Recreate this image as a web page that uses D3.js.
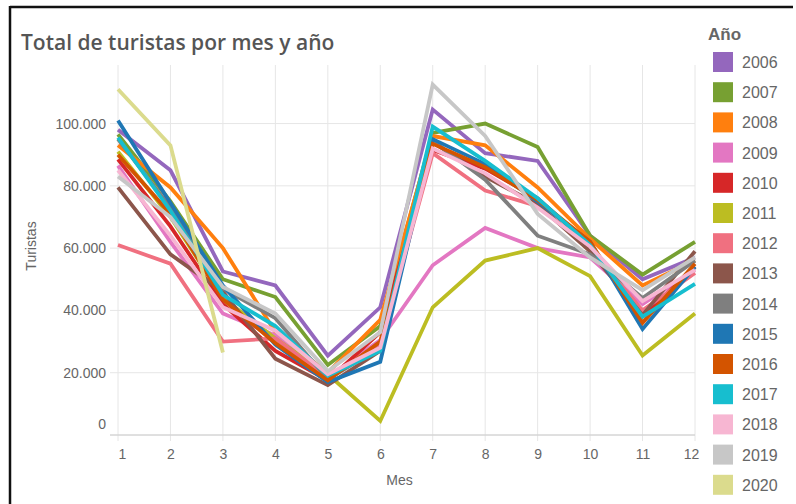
<!DOCTYPE html>
<html>
<head>
<meta charset="utf-8">
<script src="https://cdn.jsdelivr.net/npm/d3@7"></script>
<style>
  body { margin: 0; background: #fff; }
  svg { display: block; font-family: "Liberation Sans", Arial, sans-serif; }
  .grid line { stroke: #e6e6e6; }
  .axis text { fill: #666; font-size: 14px; font-family: "Liberation Sans", Arial, sans-serif; }
</style>
</head>
<body>
<div id="chart-area"></div>
<script>
// Meses y años
var months = [1, 2, 3, 4, 5, 6, 7, 8, 9, 10, 11, 12];
var years = ["2006", "2007", "2008", "2009", "2010", "2011", "2012", "2013",
             "2014", "2015", "2016", "2017", "2018", "2019", "2020"];
var colors = ["#9467bd", "#77a032", "#ff7f0e", "#e377c2", "#d62728", "#bcbd22", "#f07080", "#8c564b",
              "#7f7f7f", "#1f77b4", "#d35400", "#17becf", "#f7b6d2", "#c7c7c7", "#dbdb8d"];
var yTicks = [0, 20000, 40000, 60000, 80000, 100000];

// turistas por mes, una lista por año
var t2006 = [98000, 85000, 52500, 48000, 25500, 41000, 104500, 90500, 88000, 64000, 50000, 57000];
var t2007 = [96500, 75000, 50000, 44300, 22500, 35000, 97000, 100000, 92500, 64000, 51500, 62000];
var t2008 = [93000, 79500, 60000, 33000, 20000, 37000, 96000, 93000, 79500, 63000, 48000, 56000];
var t2009 = [86500, 62000, 39000, 32000, 18500, 30500, 54500, 66500, 60000, 57000, 42000, 53000];
var t2010 = [88500, 67000, 42000, 27000, 17500, 33000, 91500, 85500, 76000, 61000, 38000, 54000];
var t2011 = [91000, 70000, 44000, 31000, 19500, 4500, 41000, 56000, 60000, 51000, 25500, 39000];
var t2012 = [61000, 55000, 30000, 31000, 18500, 29000, 90500, 78500, 73500, 60000, 40000, 52000];
var t2013 = [79500, 58000, 46000, 24500, 16000, 27000, 94000, 83000, 74000, 59000, 38500, 59000];
var t2014 = [95000, 73000, 47000, 37500, 18000, 28000, 94500, 82000, 64000, 58000, 44000, 56000];
var t2015 = [101000, 74500, 48000, 29000, 17000, 23500, 95000, 87000, 75000, 62000, 34000, 54000];
var t2016 = [90000, 71000, 43500, 29500, 17500, 30000, 93500, 86000, 75500, 62000, 36000, 55000];
var t2017 = [95500, 72000, 45000, 35000, 19000, 27000, 99000, 88000, 76000, 61000, 38000, 48500];
var t2018 = [85000, 64000, 41000, 33500, 19500, 28000, 92000, 84000, 73000, 60500, 43000, 53000];
var t2019 = [83000, 70000, 47500, 39000, 20500, 33000, 112500, 96000, 71000, 57000, 46500, 57000];
var t2020 = [111000, 93000, 26500];

var series = [t2006, t2007, t2008, t2009, t2010, t2011, t2012, t2013,
              t2014, t2015, t2016, t2017, t2018, t2019, t2020];

var W = 796, H = 504;
var margin = {left: 118, right: 101, top: 65, bottom: 69};
var width = W - margin.left - margin.right;
var height = H - margin.top - margin.bottom;

var svg = d3.select("#chart-area").append("svg")
    .attr("width", W)
    .attr("height", H);

// marco negro
svg.append("line").attr("x1", 10).attr("x2", 793).attr("y1", 7).attr("y2", 7)
    .attr("stroke", "#111").attr("stroke-width", 2.5);
svg.append("line").attr("x1", 10).attr("x2", 10).attr("y1", 6).attr("y2", H)
    .attr("stroke", "#111").attr("stroke-width", 2.5);

// titulo
svg.append("text")
    .attr("x", 21)
    .attr("y", 50)
    .attr("font-size", "21px")
    .attr("font-weight", "600")
    .attr("font-family", "'Open Sans', sans-serif")
    .attr("fill", "#555")
    .text("Total de turistas por mes y año");

var g = svg.append("g")
    .attr("transform", "translate(" + margin.left + "," + margin.top + ")");

var x = d3.scaleLinear().domain([1, 12]).range([0, width]);
var y = d3.scaleLinear().domain([0, 118800]).range([height, 0]);

// rejilla
g.append("g").attr("class", "grid")
    .selectAll("line").data(months).enter().append("line")
    .attr("x1", d => x(d)).attr("x2", d => x(d))
    .attr("y1", 0).attr("y2", height + 6);
g.append("g").attr("class", "grid")
    .selectAll("line").data(yTicks).enter().append("line")
    .attr("x1", -8).attr("x2", width)
    .attr("y1", d => y(d)).attr("y2", d => y(d));
g.append("line")
    .attr("x1", -8).attr("x2", width).attr("y1", height).attr("y2", height)
    .attr("stroke", "#ccc");

// ejes
var fmt = d3.formatLocale({decimal: ",", thousands: ".", grouping: [3]}).format(",");
var yAxisCall = d3.axisLeft(y).tickValues(yTicks).tickSize(0).tickPadding(12)
    .tickFormat(d => fmt(d));
var yAx = g.append("g").attr("class", "axis").call(yAxisCall);
yAx.select(".domain").remove();
yAx.selectAll("text").attr("dy", d => d === 0 ? "-0.45em" : "0.32em");

var xAxisCall = d3.axisBottom(x).tickValues(months).tickSize(0).tickPadding(14);
var xAx = g.append("g").attr("class", "axis")
    .attr("transform", "translate(0," + height + ")")
    .call(xAxisCall);
xAx.select(".domain").remove();
xAx.selectAll("text").attr("dx", d => d === 1 ? "4px" : (d === 12 ? "-4px" : "0"));

// etiquetas
g.append("text")
    .attr("x", width / 2 - 7)
    .attr("y", height + 50)
    .attr("font-size", "14px")
    .attr("fill", "#666")
    .attr("text-anchor", "middle")
    .text("Mes");

g.append("text")
    .attr("x", -(height / 2) + 4)
    .attr("y", -82)
    .attr("font-size", "14px")
    .attr("fill", "#666")
    .attr("text-anchor", "middle")
    .attr("transform", "rotate(-90)")
    .text("Turistas");

// lineas
var line = d3.line()
    .x((d, i) => x(months[i]))
    .y(d => y(d));

g.selectAll(".serie")
    .data(series)
    .enter()
    .append("path")
    .attr("class", "serie")
    .attr("d", d => line(d))
    .attr("fill", "none")
    .attr("stroke", (d, i) => colors[i])
    .attr("stroke-width", 3.8)
    .attr("stroke-linejoin", "miter");

// leyenda
var legend = svg.append("g").attr("transform", "translate(708,0)");
legend.append("text")
    .attr("x", 0).attr("y", 40)
    .attr("font-size", "17px")
    .attr("font-weight", "bold")
    .attr("fill", "#666")
    .text("Año");

var items = legend.selectAll(".item")
    .data(years)
    .enter()
    .append("g")
    .attr("class", "item")
    .attr("transform", (d, i) => "translate(0," + (62 + i * 30.2) + ")");
items.append("rect")
    .attr("x", 5).attr("y", -10)
    .attr("width", 20).attr("height", 20)
    .attr("fill", (d, i) => colors[i]);
items.append("text")
    .attr("x", 34).attr("y", 6)
    .attr("font-size", "16px")
    .attr("fill", "#666")
    .text(d => d);
</script>
</body>
</html>
